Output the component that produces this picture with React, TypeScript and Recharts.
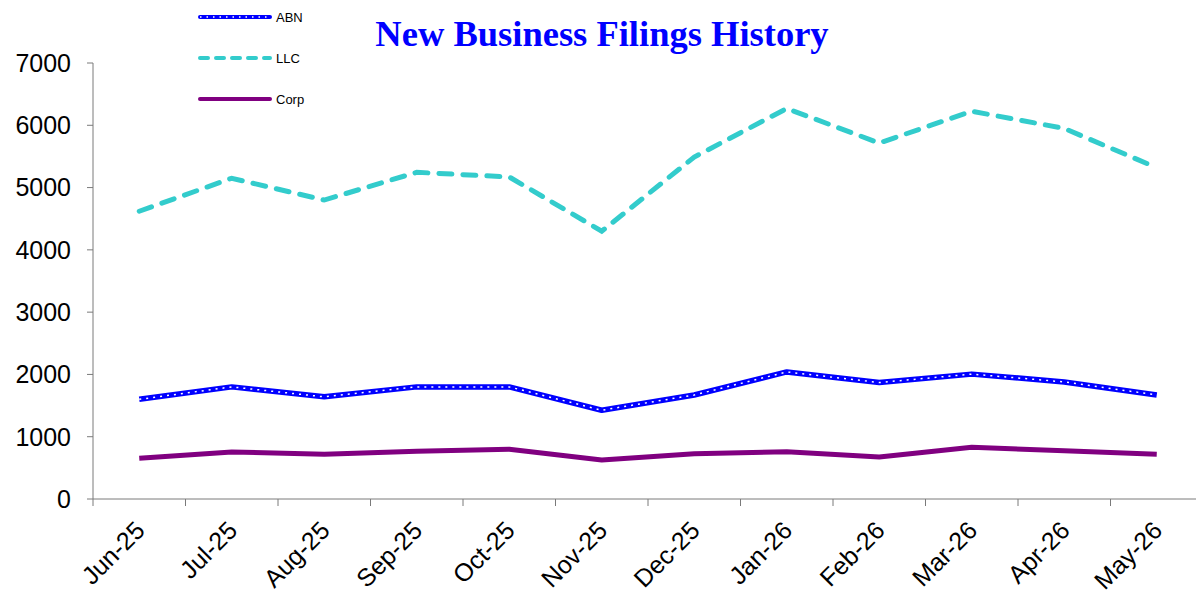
import { Line, LineChart, XAxis, YAxis } from 'recharts'

const MONTHS = ['Jun-25', 'Jul-25', 'Aug-25', 'Sep-25', 'Oct-25', 'Nov-25', 'Dec-25', 'Jan-26', 'Feb-26', 'Mar-26', 'Apr-26', 'May-26']
const ABN = [1600, 1800, 1640, 1800, 1800, 1425, 1670, 2040, 1870, 2005, 1880, 1670]
const LLC = [4620, 5150, 4800, 5245, 5170, 4300, 5490, 6270, 5715, 6225, 5950, 5320]
const CORP = [655, 755, 720, 765, 800, 625, 725, 760, 675, 830, 775, 720]
const Y_TICKS = [0, 1000, 2000, 3000, 4000, 5000, 6000, 7000]

const data = MONTHS.map((m, i) => ({ month: m, abn: ABN[i], llc: LLC[i], corp: CORP[i] }))

const CHART_W = 1205
const CHART_H = 593
const Y_AXIS_W = 93
const PLOT_W = CHART_W - Y_AXIS_W - 2
const BAND = PLOT_W / MONTHS.length
const AXIS_INK = '#7a7a7a'
const FONT = '"Liberation Sans", Arial, sans-serif'

function MonthTick({ x, y, payload }: { x: number; y: number; payload: { value: string } }) {
  const bx = x - BAND / 2
  const tx = x + 7
  const ty = y + 33
  return (
    <g>
      <line x1={bx} x2={bx} y1={y} y2={y + 7} stroke={AXIS_INK} strokeWidth={1} />
      <text
        x={tx}
        y={ty}
        transform={`rotate(-45, ${tx}, ${ty})`}
        textAnchor="end"
        fontSize={25}
        fontFamily={FONT}
        fill="#000"
      >
        {payload.value}
      </text>
    </g>
  )
}

function LegendBox() {
  const rows = [
    { label: 'ABN', color: '#0000ff', dash: undefined, dotted: true },
    { label: 'LLC', color: '#33cccc', dash: '8 8', dotted: false },
    { label: 'Corp', color: '#800080', dash: undefined, dotted: false },
  ]
  return (
    <svg width={130} height={115}>
      {rows.map((r, i) => {
        const cy = 12 + i * 41
        return (
          <g key={r.label}>
            <line x1={5} x2={75} y1={cy} y2={cy} stroke={r.color} strokeWidth={4} strokeDasharray={r.dash} strokeLinecap="round" />
            {r.dotted ? <line x1={5} x2={75} y1={cy} y2={cy} stroke="#fff" strokeWidth={1.3} strokeDasharray="1.5 5" /> : null}
            <text x={81} y={cy + 5} fontSize={13} fontFamily={FONT} fill="#000">
              {r.label}
            </text>
          </g>
        )
      })}
    </svg>
  )
}

export default function App() {
  return (
    <div style={{ position: 'absolute', left: 0, top: 0, width: 1196, height: CHART_H, overflow: 'hidden', background: '#fff' }}>
      <LineChart width={CHART_W} height={CHART_H} data={data} margin={{ top: 63, right: 2, bottom: 0, left: 0 }}>
        <XAxis
          dataKey="month"
          scale="band"
          interval={0}
          tickSize={0}
          tickMargin={0}
          tickLine={false}
          axisLine={{ stroke: AXIS_INK, strokeWidth: 1 }}
          height={94}
          tick={(p: any) => <MonthTick {...p} />}
        />
        <YAxis
          domain={[0, 7000]}
          ticks={Y_TICKS}
          interval={0}
          width={Y_AXIS_W}
          tickSize={6}
          tickMargin={16}
          tickLine={{ stroke: AXIS_INK }}
          axisLine={{ stroke: AXIS_INK, strokeWidth: 1 }}
          tick={{ fill: '#000', fontSize: 25, fontFamily: FONT }}
        />
        <Line dataKey="llc" name="LLC" stroke="#33cccc" strokeWidth={5} strokeDasharray="13 11" strokeLinecap="round" dot={false} isAnimationActive={false} />
        <Line dataKey="abn" name="ABN" stroke="#0000ff" strokeWidth={5.5} strokeLinejoin="round" dot={false} isAnimationActive={false} />
        <Line dataKey="abn" name="ABN overlay" legendType="none" stroke="#ffffff" strokeWidth={1.5} strokeDasharray="2 5" dot={false} activeDot={false} isAnimationActive={false} />
        <Line dataKey="corp" name="Corp" stroke="#800080" strokeWidth={5} strokeLinejoin="round" dot={false} isAnimationActive={false} />
      </LineChart>
      <div style={{ position: 'absolute', left: 195, top: 5 }}>
        <LegendBox />
      </div>
      <div
        style={{
          position: 'absolute',
          left: 0,
          width: 1204,
          top: 12,
          textAlign: 'center',
          fontFamily: '"Liberation Serif", "Times New Roman", serif',
          fontWeight: 'bold',
          fontSize: 36.5,
          color: '#0000ff',
          lineHeight: '44px',
        }}
      >
        New Business Filings History
      </div>
    </div>
  )
}
